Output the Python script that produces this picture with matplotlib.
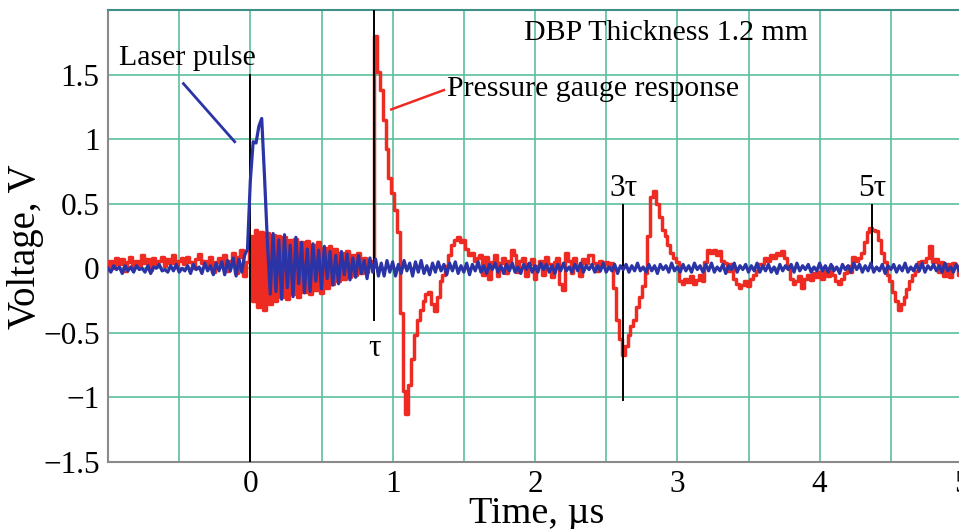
import numpy as np
import matplotlib.pyplot as plt

plt.rcParams['font.family'] = ['Liberation Serif', 'DejaVu Serif']

# sampled traces, one value every 0.02 us starting at -1.0 us
t_start = -1.0
t_step = 0.02

red_v = [
    0.02, 0.06, 0.00, 0.08, 0.03, 0.07, -0.02, 0.05, 0.09, 0.01,
    0.06, 0.02, 0.10, 0.04, 0.07, -0.01, 0.08, 0.03, 0.06, 0.09,
    0.02, 0.07, 0.04, 0.10, 0.01, 0.06, 0.08, 0.03, 0.09, 0.05,
    0.00, 0.07, 0.11, 0.04, 0.06, 0.02, 0.09, -0.03, 0.05, 0.08,
    0.03, 0.10, -0.02, 0.06, 0.12, -0.04, 0.09, 0.14, -0.06, 0.05,
    0.25, -0.25, 0.30, -0.30, 0.28, -0.32, 0.27, -0.28, 0.26, -0.25,
    0.25, -0.22, 0.24, -0.24, 0.22, -0.20, 0.23, -0.22, 0.20, -0.18,
    0.21, -0.20, 0.18, -0.17, 0.20, -0.19, 0.16, -0.15, 0.17, -0.12,
    0.15, -0.10, 0.12, -0.08, 0.13, -0.07, 0.10, -0.05, 0.12, -0.04,
    0.08, -0.03, 0.06, 0.05, 1.80, 1.52, 1.38, 1.15, 0.92, 0.70,
    0.58, 0.45, 0.28, -0.35, -0.95, -1.13, -0.90, -0.70, -0.52, -0.40,
    -0.32, -0.25, -0.20, -0.18, -0.28, -0.33, -0.22, -0.10, -0.05, 0.02,
    0.10, 0.18, 0.22, 0.24, 0.20, 0.22, 0.15, 0.10, 0.12, 0.06,
    0.08, 0.10, -0.05, 0.09, -0.08, 0.05, 0.10, -0.06, 0.04, 0.08,
    -0.04, 0.06, 0.14, 0.10, -0.03, 0.06, 0.08, -0.06, 0.03, 0.07,
    -0.08, 0.02, 0.06, -0.05, 0.09, 0.03, -0.07, 0.05, 0.08, -0.12,
    -0.17, 0.12, 0.06, -0.04, 0.08, 0.02, -0.06, 0.07, 0.04, 0.10,
    0.10, 0.04, -0.02, 0.06, 0.03, 0.05, 0.02, 0.04, -0.15, -0.40,
    -0.55, -0.67, -0.60, -0.52, -0.45, -0.40, -0.30, -0.22, -0.14, -0.04,
    0.25, 0.55, 0.60, 0.50, 0.40, 0.30, 0.25, 0.18, 0.12, 0.08,
    0.05, -0.10, -0.12, -0.08, -0.11, -0.06, -0.12, -0.09, -0.05, -0.10,
    0.05, 0.14, 0.12, 0.14, 0.10, 0.13, 0.06, 0.04, -0.02, 0.03,
    -0.08, -0.12, -0.15, -0.13, -0.10, -0.14, -0.08, -0.05, -0.02, 0.03,
    0.03, 0.08, 0.06, 0.10, 0.08, 0.12, 0.10, 0.13, 0.08, 0.00,
    -0.08, -0.12, -0.10, -0.06, -0.15, -0.08, -0.05, -0.09, -0.04, -0.07,
    -0.03, -0.08, -0.02, -0.06, 0.02, -0.05, -0.10, -0.12, -0.08, -0.04,
    0.02, -0.03, 0.09, 0.06, 0.08, 0.12, 0.20, 0.28, 0.31, 0.30,
    0.29, 0.22, 0.12, 0.05, -0.05, -0.10, -0.18, -0.25, -0.32, -0.28,
    -0.22, -0.16, -0.10, -0.05, -0.02, 0.05, 0.06, 0.05, 0.08, 0.17,
    0.05, 0.07, -0.03, 0.05, -0.06, 0.03, -0.07, 0.04, 0.02, -0.05,
    0.03,
]

blue_v = [
    0.00, -0.03, 0.02, -0.01, 0.01, -0.04, 0.02, -0.02, 0.01, -0.03,
    0.02, -0.01, 0.00, -0.03, 0.02, -0.04, 0.01, 0.00, 0.03, -0.02,
    -0.01, -0.03, 0.02, -0.02, 0.03, -0.03, 0.00, -0.02, 0.02, -0.04,
    0.03, -0.01, 0.01, -0.04, 0.04, -0.02, 0.02, -0.05, 0.04, -0.02,
    0.05, -0.05, 0.06, -0.02, 0.08, -0.06, 0.07, -0.03, 0.10, 0.15,
    0.68, 0.98, 0.97, 1.10, 1.16, 0.70, 0.20, -0.20, 0.27, -0.18,
    0.22, -0.24, 0.26, -0.15, 0.18, -0.22, 0.24, -0.12, 0.20, -0.19,
    0.15, -0.18, 0.19, -0.10, 0.14, -0.16, 0.17, -0.08, 0.13, -0.13,
    0.10, -0.12, 0.13, -0.05, 0.11, -0.09, 0.08, -0.07, 0.10, -0.04,
    0.06, -0.08, 0.08, -0.03, 0.07, -0.06, 0.04, -0.06, 0.06, -0.03,
    0.05, -0.06, 0.03, -0.04, 0.06, -0.02, 0.04, -0.06, 0.05, -0.03,
    0.06, -0.04, 0.02, -0.05, 0.04, -0.03, 0.05, -0.02, 0.03, -0.05,
    0.04, -0.02, 0.05, -0.04, 0.02, -0.03, 0.04, -0.05, 0.03, -0.02,
    0.05, -0.03, 0.02, -0.04, 0.03, -0.01, 0.04, -0.03, 0.02, -0.04,
    0.03, -0.02, 0.04, -0.03, 0.01, -0.04, 0.03, -0.01, 0.04, -0.03,
    0.02, -0.03, 0.04, -0.01, 0.03, -0.03, 0.02, -0.04, 0.03, -0.02,
    0.04, -0.02, 0.01, -0.03, 0.03, -0.02, 0.04, -0.03, 0.02, -0.01,
    0.03, -0.03, 0.02, -0.02, 0.04, -0.03, 0.01, -0.02, 0.03, -0.04,
    0.02, -0.01, 0.03, -0.03, 0.02, -0.02, 0.04, -0.02, 0.01, -0.03,
    0.03, -0.02, 0.02, -0.04, 0.03, -0.01, 0.02, -0.03, 0.04, -0.02,
    0.01, -0.03, 0.03, -0.02, 0.02, -0.03, 0.04, -0.01, 0.02, -0.03,
    0.03, -0.02, 0.04, -0.03, 0.01, -0.02, 0.03, -0.04, 0.02, -0.01,
    0.04, -0.03, 0.02, -0.01, 0.03, -0.03, 0.02, -0.02, 0.04, -0.03,
    0.02, -0.02, 0.03, -0.03, 0.01, -0.04, 0.03, -0.02, 0.02, -0.01,
    0.03, -0.03, 0.04, -0.02, 0.02, -0.01, 0.03, -0.03, 0.01, -0.02,
    0.04, -0.02, 0.02, -0.03, 0.03, -0.02, 0.01, -0.04, 0.03, -0.01,
    0.02, -0.03, 0.04, -0.01, 0.03, -0.03, 0.02, -0.02, 0.04, -0.03,
    0.01, -0.02, 0.03, -0.04, 0.02, -0.01, 0.03, -0.03, 0.02, -0.02,
    0.04, -0.03, 0.01, -0.02, 0.03, -0.02, 0.04, -0.03, 0.02, -0.01,
    0.03, -0.02, 0.02, -0.03, 0.04, -0.02, 0.01, -0.03, 0.03, -0.02,
    0.02,
]

# marker lines: (time, v_low, v_high)
markers = [(0.0, -1.5, 1.5), (0.87, -0.4, 2.0), (2.62, -1.02, 0.49), (4.37, 0.0, 0.49)]
marker_labels = [('τ', 0.87, -0.62), ('3τ', 2.62, 0.62), ('5τ', 4.37, 0.62)]

x_major = [0, 1, 2, 3, 4, 5]
x_minor = [-0.5, 0.5, 1.5, 2.5, 3.5, 4.5]
y_ticks = [-1.5, -1, -0.5, 0, 0.5, 1, 1.5]
y_labels = ['\u22121.5', '\u22121', '\u22120.5', '0', '0.5', '1', '1.5']

red = '#ee2b22'
blue = '#2a34a6'
grid_c = '#5cbf9e'

fig = plt.figure(figsize=(9.59, 5.29), dpi=100)
ax = fig.add_axes([108 / 959, 67 / 529, 854 / 959, 452 / 529])

t_red = t_start + t_step * np.arange(len(red_v))
t_blue = t_start + t_step * np.arange(len(blue_v))
ax.plot(t_red, red_v, color=red, lw=2.5, drawstyle='steps-mid', zorder=3)
for tm, lo, hi in markers:
    ax.plot([tm, tm], [lo, hi], color='black', lw=1.4, zorder=3.5)
ax.plot(t_blue, blue_v, color=blue, lw=2.3, zorder=4)

ax.set_xlim(-1, 5)
ax.set_ylim(-1.5, 2.0)
ax.set_xticks(x_major)
ax.set_xticks(x_minor, minor=True)
ax.set_yticks(y_ticks)
ax.set_yticklabels(y_labels)
ax.grid(True, which='both', color=grid_c, lw=1.2, zorder=0)
ax.set_axisbelow(True)
ax.tick_params(which='both', length=0, labelsize=22.5, pad=6)

for side in ['left', 'bottom']:
    ax.spines[side].set_color('#8a8a8a')
    ax.spines[side].set_linewidth(1.5)
ax.spines['top'].set_color('#3f8f86')
ax.spines['top'].set_linewidth(1.5)
ax.spines['right'].set_visible(False)

# annotations
ax.text(-0.92, 1.63, 'Laser pulse', fontsize=21.5, va='center', ha='left')
ax.plot([-0.47, -0.11], [1.43, 0.98], color=blue, lw=2.0, zorder=5)
ax.text(1.38, 1.39, 'Pressure gauge response', fontsize=21.5, va='center', ha='left')
ax.plot([0.99, 1.36], [1.23, 1.38], color=red, lw=1.8, zorder=5)
ax.text(1.92, 1.82, 'DBP Thickness 1.2 mm', fontsize=21.5, va='center', ha='left')
for lab, tx, vy in marker_labels:
    ax.text(tx, vy, lab, fontsize=22.5, ha='center', va='center')

fig.text(25 / 959, 0.533, 'Voltage, V', fontsize=28, rotation=90, ha='center', va='center')
fig.text(537 / 959, 6 / 529, 'Time, µs', fontsize=27.5, ha='center', va='baseline')

fig.savefig('out.png', dpi=100)
